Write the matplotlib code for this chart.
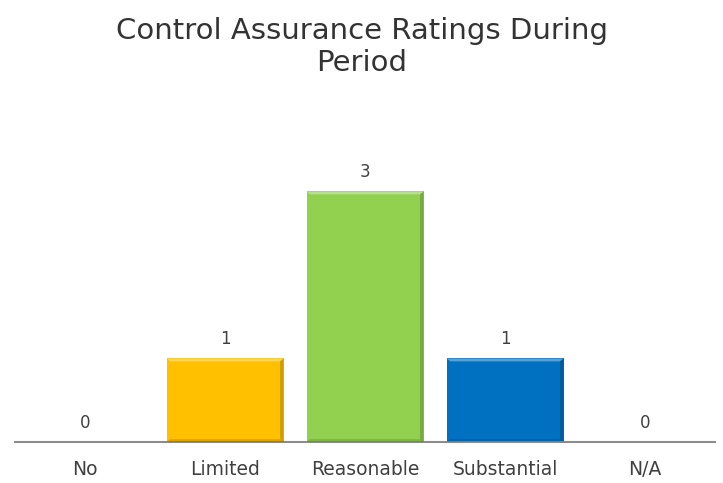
import numpy as np
import matplotlib.pyplot as plt
from matplotlib.patches import Polygon

plt.rcParams['font.family'] = ['DejaVu Sans']

# data
categories = ["No", "Limited", "Reasonable", "Substantial", "N/A"]
counts = [0, 1, 3, 1, 0]
colors = ["#FFC000", "#FFC000", "#92D050", "#0070C0", "#0070C0"]

fig = plt.figure(figsize=(7.23, 4.83), dpi=100)
ax = fig.add_axes([0.021, 0.085, 0.968, 0.605])

x = np.arange(len(categories))
bars = ax.bar(x, counts, width=0.835, color=colors, edgecolor="none", zorder=2)

# rough bevel look: lighter top strip, darker right/bottom strips
for b, c in zip(bars, colors):
    h = b.get_height()
    if h <= 0:
        continue
    x0, w = b.get_x(), b.get_width()
    dx = w * 0.03
    dy = 0.035
    ax.add_patch(Polygon([[x0, h], [x0 + w, h], [x0 + w - dx, h - dy], [x0 + dx, h - dy]],
                         closed=True, color="white", alpha=0.35, lw=0, zorder=3))
    ax.add_patch(Polygon([[x0 + w, h], [x0 + w, 0], [x0 + w - dx, dy], [x0 + w - dx, h - dy]],
                         closed=True, color="black", alpha=0.18, lw=0, zorder=3))
    ax.add_patch(Polygon([[x0, 0], [x0 + w, 0], [x0 + w - dx, dy], [x0 + dx, dy]],
                         closed=True, color="black", alpha=0.12, lw=0, zorder=3))

for xi, v in zip(x, counts):
    ax.text(xi, v + 0.12, str(v), ha="center", va="bottom", fontsize=12, color="#404040")

ax.set_xlim(-0.5, 4.5)
ax.set_ylim(0, 3.5)
ax.set_xticks(x)
ax.set_xticklabels(categories, fontsize=13.5, color="#404040")
ax.tick_params(axis="x", length=0, pad=13)
ax.set_yticks([])
for s in ["top", "right", "left"]:
    ax.spines[s].set_visible(False)
ax.spines["bottom"].set_color("#8c8c8c")
ax.spines["bottom"].set_linewidth(1.5)

fig.text(0.5, 0.965, "Control Assurance Ratings During\nPeriod", ha="center", va="top",
         fontsize=21, color="#333333", linespacing=1.2)

fig.savefig("out.png", dpi=100)
